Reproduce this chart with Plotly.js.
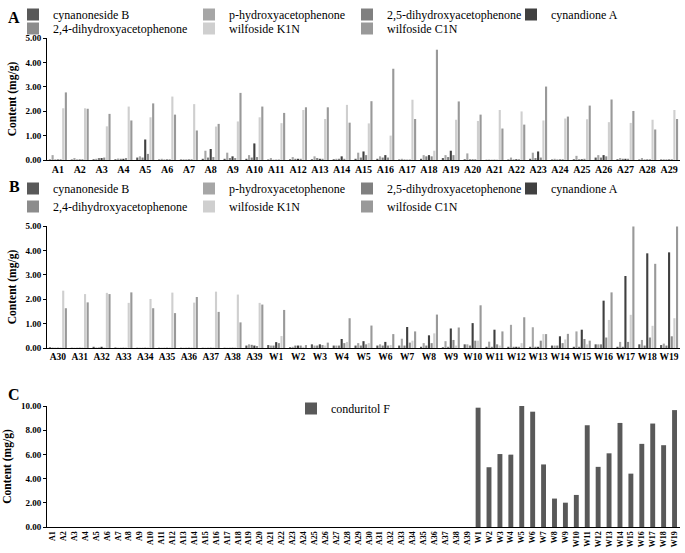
<!DOCTYPE html>
<html><head><meta charset="utf-8">
<script src="https://cdn.plot.ly/plotly-3.0.1.min.js"></script>
<style>html,body{margin:0;padding:0;background:#fff}#chart{width:685px;height:553px}</style>
</head><body><div id="chart"></div>
<script>
// ---------- Data ----------
const seriesNames = ['cynanoneside B','p-hydroxyacetophenone','2,5-dihydroxyacetophenone','cynandione A','2,4-dihydroxyacetophenone','wilfoside K1N','wilfoside C1N'];
const seriesColors = ['#595959','#a6a6a6','#808080','#404040','#8c8c8c','#cfcfcf','#999999'];

const catsA = ['A1','A2','A3','A4','A5','A6','A7','A8','A9','A10','A11','A12','A13','A14','A15','A16','A17','A18','A19','A20','A21','A22','A23','A24','A25','A26','A27','A28','A29'];
const catsB = ['A30','A31','A32','A33','A34','A35','A36','A37','A38','A39','W1','W2','W3','W4','W5','W6','W7','W8','W9','W10','W11','W12','W13','W14','W15','W16','W17','W18','W19'];
const catsC = ['A1','A2','A3','A4','A5','A6','A7','A8','A9','A10','A11','A12','A13','A14','A15','A16','A17','A18','A19','A20','A21','A22','A23','A24','A25','A26','A27','A28','A29','A30','A31','A32','A33','A34','A35','A36','A37','A38','A39','W1','W2','W3','W4','W5','W6','W7','W8','W9','W10','W11','W12','W13','W14','W15','W16','W17','W18','W19'];

// Panel A values (A1..A29)
const A_cynanonesideB = [0.02,0.02,0.03,0.03,0.10,0.02,0.02,0.05,0.05,0.05,0.02,0.03,0.03,0.03,0.05,0.05,0.02,0.05,0.08,0.03,0.01,0.02,0.05,0.02,0.03,0.10,0.03,0.02,0.02];
const A_pHydroxy      = [0.20,0.08,0.05,0.06,0.15,0.05,0.03,0.38,0.30,0.20,0.08,0.12,0.15,0.05,0.30,0.15,0.05,0.20,0.20,0.27,0.02,0.10,0.30,0.05,0.17,0.20,0.08,0.08,0.03];
const A_d25           = [0.02,0.02,0.08,0.05,0.10,0.02,0.02,0.10,0.08,0.10,0.01,0.05,0.08,0.05,0.10,0.10,0.02,0.15,0.12,0.03,0.01,0.02,0.08,0.02,0.03,0.10,0.05,0.02,0.02];
const A_cynandioneA   = [0.02,0.02,0.08,0.05,0.84,0.02,0.02,0.45,0.15,0.68,0.01,0.05,0.05,0.15,0.35,0.20,0.01,0.20,0.38,0.02,0.01,0.03,0.35,0.02,0.03,0.20,0.05,0.02,0.02];
const A_d24           = [0.03,0.03,0.10,0.08,0.25,0.03,0.03,0.12,0.08,0.12,0.02,0.05,0.05,0.05,0.20,0.10,0.02,0.15,0.20,0.03,0.01,0.03,0.10,0.03,0.05,0.15,0.05,0.03,0.03];
const A_K1N           = [2.12,2.12,1.38,2.19,1.75,2.60,2.29,1.37,1.58,1.75,1.51,2.05,1.68,2.26,1.50,1.00,2.47,0.38,1.65,1.60,2.05,1.99,1.62,1.70,1.67,1.55,1.52,1.65,2.05];
const A_C1N           = [2.77,2.10,1.89,1.62,2.32,1.86,1.21,1.48,2.75,2.19,1.93,2.16,2.16,1.53,2.41,3.74,1.68,4.52,2.40,1.86,1.29,1.45,3.01,1.78,2.23,2.48,2.01,1.25,1.68];

// Panel B values (A30..A39, W1..W19)
const B_cynanonesideB = [0.03,0.01,0.05,0.02,0.01,0.01,0.01,0.01,0.01,0.10,0.12,0.03,0.15,0.10,0.10,0.10,0.10,0.05,0.03,0.15,0.05,0.05,0.05,0.10,0.05,0.15,0.05,0.15,0.12];
const B_pHydroxy      = [0.02,0.01,0.02,0.01,0.01,0.01,0.01,0.01,0.01,0.15,0.10,0.05,0.10,0.10,0.20,0.15,0.38,0.20,0.28,0.15,0.26,0.95,0.85,0.10,0.68,0.15,0.25,0.33,0.18];
const B_d25           = [0.01,0.01,0.02,0.01,0.01,0.01,0.01,0.01,0.01,0.13,0.10,0.10,0.10,0.10,0.10,0.10,0.10,0.10,0.05,0.10,0.05,0.05,0.05,0.10,0.05,0.15,0.05,0.10,0.10];
const B_cynandioneA   = [0.01,0.01,0.05,0.01,0.01,0.01,0.01,0.01,0.01,0.10,0.24,0.10,0.15,0.37,0.28,0.25,0.86,0.52,0.80,1.02,0.75,0.05,0.05,0.48,0.75,1.94,2.95,3.88,3.92];
const B_d24           = [0.01,0.01,0.01,0.01,0.01,0.01,0.01,0.01,0.01,0.08,0.20,0.10,0.12,0.20,0.15,0.10,0.22,0.20,0.33,0.30,0.15,0.05,0.30,0.20,0.37,0.43,0.25,0.43,0.48];
const B_K1N           = [2.35,2.21,2.26,1.85,2.01,2.27,1.86,2.31,2.19,1.85,0.49,0.05,0.10,0.25,0.20,0.12,0.30,0.60,0.10,0.30,0.10,0.20,0.57,0.35,0.15,1.15,1.36,0.91,1.22];
const B_C1N           = [1.63,1.87,2.21,2.28,1.63,1.43,2.09,1.48,1.05,1.78,1.56,0.12,0.22,1.22,0.92,0.57,0.68,1.37,0.84,1.75,0.68,1.26,0.57,0.58,0.30,2.28,4.98,3.45,4.98];

// Panel C values (conduritol F)
const C_conduritolF = [0,0,0,0,0,0,0,0,0,0,0,0,0,0,0,0,0,0,0,0,0,0,0,0,0,0,0,0,0,0,0,0,0,0,0,0,0,0,0,
  9.86,4.94,6.03,5.98,10.00,9.53,5.17,2.35,2.01,2.65,8.41,4.97,6.09,8.60,4.41,6.87,8.55,6.76,9.66];

// ---------- Build ----------
const serif = 'Liberation Serif';
const legendWidths = [131,113,119,75,131,113,80];
const A_vals = [A_cynanonesideB,A_pHydroxy,A_d25,A_cynandioneA,A_d24,A_K1N,A_C1N];
const B_vals = [B_cynanonesideB,B_pHydroxy,B_d25,B_cynandioneA,B_d24,B_K1N,B_C1N];
const traces = [];
seriesNames.forEach((n,i)=>{
  traces.push({type:'bar', name:n, x:catsA, y:A_vals[i], xaxis:'x', yaxis:'y',
    marker:{color:seriesColors[i]}, legend: i<4 ? 'legend' : 'legend2', legendwidth:legendWidths[i]});
});
seriesNames.forEach((n,i)=>{
  traces.push({type:'bar', name:n, x:catsB, y:B_vals[i], xaxis:'x2', yaxis:'y2',
    marker:{color:seriesColors[i]}, legend: i<4 ? 'legend3' : 'legend4', legendwidth:legendWidths[i]});
});
traces.push({type:'bar', name:'conduritol F', x:catsC, y:C_conduritolF, xaxis:'x3', yaxis:'y3',
  marker:{color:'#595959'}, width:0.45, legend:'legend5'});

const H = 553, W = 685;
const py = p => 1 - p/H;
const xdom = [47/W, 680/W];
const tickF = {family:serif, size:10, color:'#000', weight:'bold'};
const yTickF = {family:serif, size:9, color:'#000', weight:'bold'};
function xax(extra){ return Object.assign({domain:xdom, type:'category', showline:true, linecolor:'#000', linewidth:1,
  ticks:'', showgrid:false, zeroline:false, tickfont:tickF, tickangle:0, fixedrange:true}, extra); }
function yax(extra){ return Object.assign({showline:true, linecolor:'#000', linewidth:1, ticks:'outside', ticklen:3,
  tickcolor:'#000', showgrid:false, zeroline:false, tickfont:yTickF, tickformat:'.2f',
  title:{text:'Content (mg/g)', font:{family:serif, size:11.5, color:'#000', weight:'bold'}, standoff:6}}, extra); }
function leg(x,yTop){ return {x:x/W, y:py(yTop), xanchor:'left', yanchor:'top', orientation:'h',
  font:{family:serif, size:12, color:'#000'}, bgcolor:'rgba(0,0,0,0)', itemwidth:30,
  entrywidthmode:'pixels', tracegroupgap:0, itemclick:false}; }

const layout = {
  width:W, height:H, margin:{l:0,r:0,t:0,b:0}, paper_bgcolor:'#fff', plot_bgcolor:'#fff',
  barmode:'group', bargap:0.15, bargroupgap:0.2, showlegend:true,
  font:{family:serif, color:'#000'},
  xaxis: xax({anchor:'y'}),
  yaxis: yax({anchor:'x', domain:[py(160), py(38)], range:[0,5], dtick:1}),
  xaxis2: xax({anchor:'y2', tickfont:{family:serif, size:9.5, color:'#000', weight:'bold'}}),
  yaxis2: yax({anchor:'x2', domain:[py(348), py(226)], range:[0,5], dtick:1}),
  xaxis3: xax({anchor:'y3', tickangle:-90, tickfont:{family:serif, size:8, color:'#000', weight:'bold'}}),
  yaxis3: yax({anchor:'x3', domain:[py(527), py(406)], range:[0,10], dtick:2}),
  legend: leg(13, 0),
  legend2: leg(13, 14),
  legend3: leg(13, 174),
  legend4: leg(13, 192),
  legend5: leg(291, 394),
  annotations: [
    {text:'A', x:14/W, y:py(18), xanchor:'center', yanchor:'middle', xref:'paper', yref:'paper', showarrow:false, font:{family:serif, size:16, color:'#000', weight:'bold'}},
    {text:'B', x:14/W, y:py(187), xanchor:'center', yanchor:'middle', xref:'paper', yref:'paper', showarrow:false, font:{family:serif, size:16, color:'#000', weight:'bold'}},
    {text:'C', x:14/W, y:py(394), xanchor:'center', yanchor:'middle', xref:'paper', yref:'paper', showarrow:false, font:{family:serif, size:16, color:'#000', weight:'bold'}}
  ]
};
Plotly.newPlot('chart', traces, layout, {displayModeBar:false, staticPlot:true});
</script></body></html>
